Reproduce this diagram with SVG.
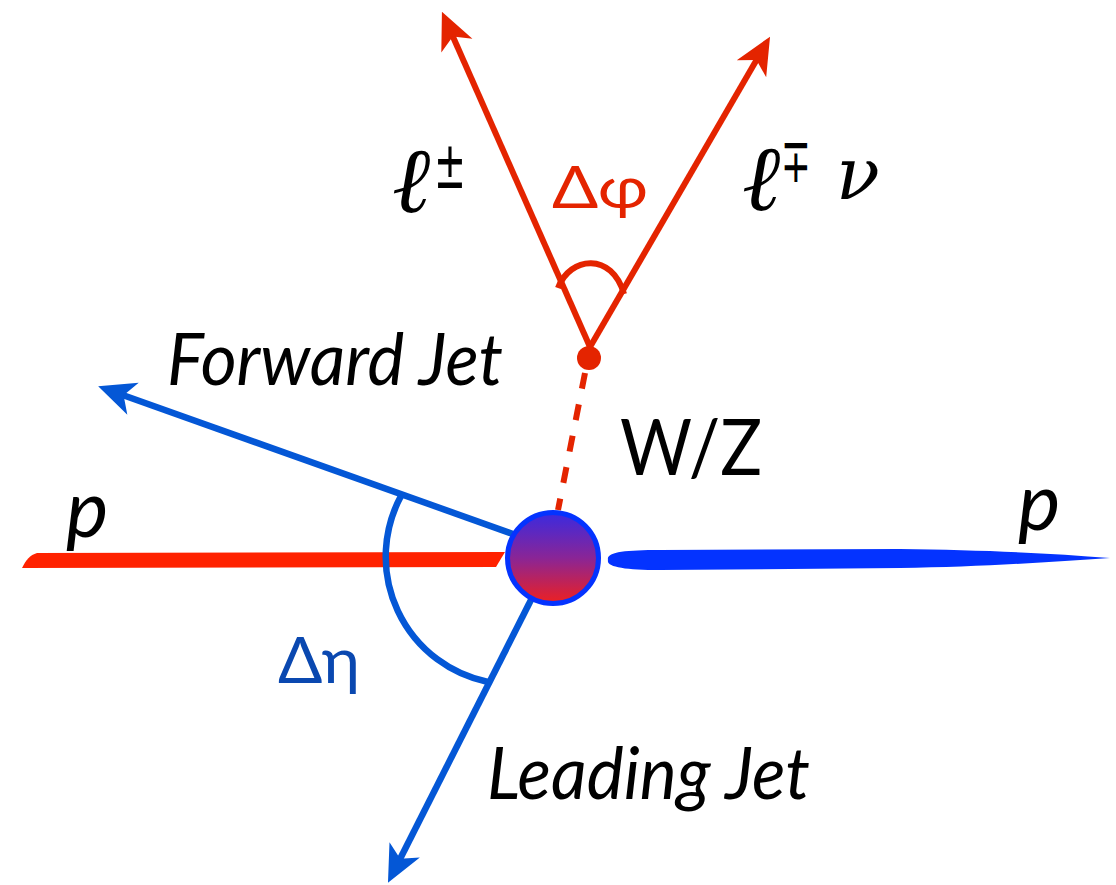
<svg xmlns="http://www.w3.org/2000/svg" width="1116" height="885" viewBox="0 0 1116 885">
<style>
.red{stroke:#e42400;stroke-width:6;fill:none}
.blue{stroke:#0457d6;stroke-width:6.5;fill:none}
.lab{font-family:"Lato","Open Sans",sans-serif;fill:#000}
.it{font-style:italic}
.math{font-family:"Liberation Serif","DejaVu Serif",serif;font-style:italic;fill:#000}
.nu{font-family:"DejaVu Serif","Liberation Serif",serif;font-style:italic;fill:#000}
.sym{font-family:"DejaVu Sans",sans-serif;fill:#000}
</style>
<defs>
<linearGradient id="blobg" x1="0" y1="0" x2="0" y2="1">
<stop offset="0" stop-color="#3a2ae0"/>
<stop offset="0.5" stop-color="#8a2596"/>
<stop offset="1" stop-color="#ee2020"/>
</linearGradient>
<marker id="ahR" viewBox="-40 -20 44 40" refX="-20" refY="0" markerWidth="44" markerHeight="40" markerUnits="userSpaceOnUse" orient="auto">
<path d="M0,0 L-37,-17 L-27,0 L-37,17 Z" fill="#e42400"/>
</marker>
<marker id="ahB" viewBox="-40 -20 44 40" refX="-20" refY="0" markerWidth="44" markerHeight="40" markerUnits="userSpaceOnUse" orient="auto">
<path d="M0,0 L-37,-17 L-27,0 L-37,17 Z" fill="#0457d6"/>
</marker>
</defs>

<g id="beam-left">
<path d="M22,568 C26,560 30,555 37,553 L505,552 L496,567 Z" fill="#ff2200"/>
</g>
<g id="beam-right">
<path d="M608,560 C606,552 625,550 660,550 L900,549 C980,550 1050,553 1110,558 C1050,562 980,567 900,568 L660,570 C625,570 606,567 608,560 Z" fill="#0433ff"/>
</g>

<g id="connectors">
<line id="lep1" class="red" x1="590" y1="347" x2="450" y2="30" marker-end="url(#ahR)"/>
<line id="lep2" class="red" x1="590" y1="347" x2="760" y2="54" marker-end="url(#ahR)"/>
<line id="wz" class="red" x1="585" y1="373" x2="558" y2="510" stroke-dasharray="16 16"/>
<line id="fwdjet" class="blue" x1="513" y1="534" x2="117" y2="393" marker-end="url(#ahB)"/>
<line id="leadjet" class="blue" x1="536" y1="590" x2="397" y2="865" marker-end="url(#ahB)"/>
<path id="dphi-arc" class="red" d="M558,288 C570,256 612,252 624,294"/>
<path id="deta-arc" class="blue" d="M401,496 A128,128 0 0 0 488,682"/>
</g>

<g id="vertex">
<circle cx="589" cy="358" r="12" fill="#e42400"/>
</g>
<g id="blob">
<circle cx="553" cy="558" r="45.5" fill="url(#blobg)" stroke="#0433ff" stroke-width="5"/>
</g>

<g id="labels">
<text class="lab it" x="66" y="537" font-size="80">p</text>
<text class="lab it" x="1018" y="530" font-size="80">p</text>
<text class="math" x="392" y="212" font-size="92">ℓ</text>
<text class="sym" x="434" y="188" font-size="66" textLength="32" lengthAdjust="spacingAndGlyphs">±</text>
<text class="math" x="742" y="210" font-size="92">ℓ</text>
<text class="sym" x="781" y="182" font-size="62" textLength="30" lengthAdjust="spacingAndGlyphs">∓</text>
<text class="nu" x="836" y="199" font-size="72">ν</text>
<text x="552" y="208" font-size="58" fill="#e42400" font-family="Lato, sans-serif" textLength="96" lengthAdjust="spacingAndGlyphs">Δφ</text>
<text x="278" y="683" font-size="64" fill="#0a48b0" font-family="Lato, sans-serif" textLength="82" lengthAdjust="spacingAndGlyphs">Δη</text>
<text class="lab it" x="167" y="385" font-size="72" textLength="336" lengthAdjust="spacingAndGlyphs">Forward Jet</text>
<text class="lab it" x="487" y="799" font-size="72" textLength="323" lengthAdjust="spacingAndGlyphs">Leading Jet</text>
<text class="lab" x="620" y="475" font-size="78" textLength="142" lengthAdjust="spacingAndGlyphs">W/Z</text>
</g>
</svg>
